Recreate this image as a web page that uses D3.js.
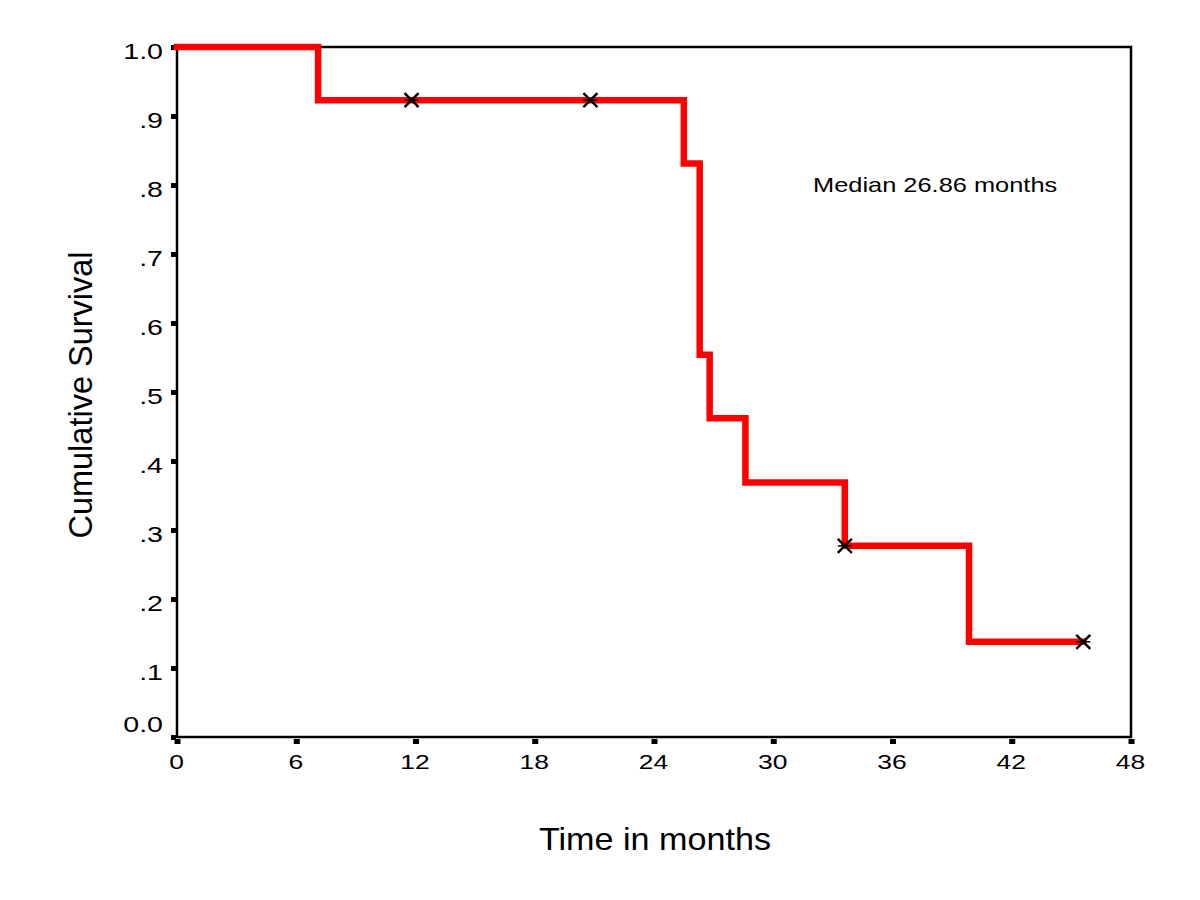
<!DOCTYPE html>
<html>
<head>
<meta charset="utf-8">
<script src="https://cdn.jsdelivr.net/npm/d3@7/dist/d3.min.js"></script>
<style>
  html, body { margin: 0; padding: 0; background: #fff; }
  svg { display: block; font-family: Arial, "Liberation Sans", sans-serif; }
</style>
</head>
<body>
<svg id="chart" width="1200" height="900"></svg>
<script>
// ---- data ----
const stepTimes = [0, 7.1, 25.5, 26.3, 26.8, 28.6, 33.6, 39.85];
const survival  = [1.0, 0.923, 0.831, 0.554, 0.462, 0.369, 0.277, 0.138];
const endTime = 45.6;
const censorTimes = [11.8, 20.8, 33.6, 45.6];
const censorSurv  = [0.923, 0.923, 0.277, 0.138];
const xTickValues = [0, 6, 12, 18, 24, 30, 36, 42, 48];
const yTickValues = [0, 0.1, 0.2, 0.3, 0.4, 0.5, 0.6, 0.7, 0.8, 0.9, 1.0];
const yTickLabels = ["0.0", ".1", ".2", ".3", ".4", ".5", ".6", ".7", ".8", ".9", "1.0"];
const xTitle = "Time in months";
const yTitle = "Cumulative Survival";
const note = "Median 26.86 months";

// ---- layout ----
const L = 177, R = 1131, T = 47, B = 737;
const svg = d3.select("#chart");
const x = d3.scaleLinear().domain([0, 48]).range([L, R]);
const y = d3.scaleLinear().domain([0, 1]).range([B, T]);

// frame
svg.append("rect").attr("x", L).attr("y", T).attr("width", R - L).attr("height", B - T)
  .attr("fill", "none").attr("stroke", "#000").attr("stroke-width", 2.5);

// x axis ticks (small squares below)
const xAxis = d3.axisBottom(x).tickValues(xTickValues).tickSize(0).tickPadding(0).tickFormat(d3.format("d"));
const gx = svg.append("g").attr("transform", `translate(0,${B})`).call(xAxis);
gx.select(".domain").remove();
gx.selectAll(".tick").append("rect").attr("x", -3).attr("y", 2).attr("width", 6).attr("height", 5).attr("fill", "#000");
gx.selectAll(".tick text").attr("x", 0).attr("y", 0).attr("dy", 0)
  .attr("transform", `translate(-1,32) scale(1.26,1)`)
  .attr("font-size", 21).attr("fill", "#000")
  .attr("font-family", "Arial, 'Liberation Sans', sans-serif");

// y axis ticks
const yAxis = d3.axisLeft(y).tickValues(yTickValues).tickSize(0).tickPadding(0)
  .tickFormat((d, i) => yTickLabels[i]);
const gy = svg.append("g").attr("transform", `translate(${L},0)`).call(yAxis);
gy.select(".domain").remove();
gy.selectAll(".tick").append("rect").attr("x", -6).attr("y", -2.5).attr("width", 5).attr("height", 5).attr("fill", "#000");
gy.selectAll(".tick text").attr("x", 0).attr("y", 0).attr("dy", 0)
  .attr("transform", d => `translate(-14,${d === 0 ? -6 : 11.5}) scale(1.3,1)`)
  .attr("font-size", 22).attr("fill", "#000")
  .attr("font-family", "Arial, 'Liberation Sans', sans-serif");

// step curve
const pts = stepTimes.map((t, i) => [t, survival[i]]);
pts.push([endTime, survival[survival.length - 1]]);
const line = d3.line().x(d => x(d[0])).y(d => y(d[1])).curve(d3.curveStepAfter);
svg.append("path").datum(pts).attr("d", line)
  .attr("fill", "none").attr("stroke", "#ff0000").attr("stroke-width", 6.5)
  .attr("stroke-linejoin", "miter").attr("stroke-linecap", "square");

// censor marks
const cg = svg.append("g");
censorTimes.forEach((t, i) => {
  const cx = x(t), cy = y(censorSurv[i]), s = 7;
  cg.append("line").attr("x1", cx - s).attr("y1", cy - s).attr("x2", cx + s).attr("y2", cy + s)
    .attr("stroke", "#000").attr("stroke-width", 2.4);
  cg.append("line").attr("x1", cx - s).attr("y1", cy + s).attr("x2", cx + s).attr("y2", cy - s)
    .attr("stroke", "#000").attr("stroke-width", 2.4);
  cg.append("line").attr("x1", cx - 7).attr("y1", cy).attr("x2", cx + 7).attr("y2", cy)
    .attr("stroke", "#000").attr("stroke-width", 1.5);
});

// annotation
svg.append("text").attr("transform", `translate(813,192) scale(1.21,1)`)
  .attr("font-size", 21).attr("fill", "#000").text(note);

// axis titles
svg.append("text").attr("transform", `translate(655,850) scale(1.12,1)`).attr("text-anchor", "middle")
  .attr("font-size", 30.5).attr("fill", "#000").text(xTitle);
svg.append("text").attr("transform", `translate(92,395) rotate(-90)`).attr("text-anchor", "middle")
  .attr("font-size", 32.5).attr("fill", "#000").text(yTitle);
</script>
</body>
</html>
